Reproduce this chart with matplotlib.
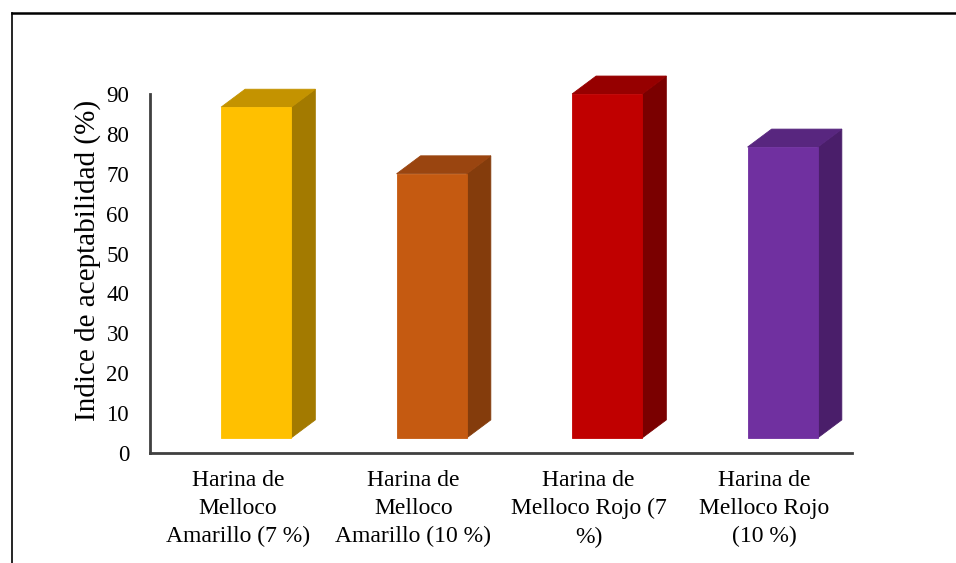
import matplotlib.pyplot as plt
from matplotlib.patches import Polygon
from matplotlib.lines import Line2D

# Acceptability index per flour formulation
categories = [
    "Harina de\nMelloco\nAmarillo (7 %)",
    "Harina de\nMelloco\nAmarillo (10 %)",
    "Harina de\nMelloco Rojo (7\n%)",
    "Harina de\nMelloco Rojo\n(10 %)",
]
values = [86.7, 70.0, 90.0, 76.7]
front_colors = ["#FFC000", "#C55A11", "#C00000", "#7030A0"]
top_colors = ["#C49300", "#9A4510", "#960000", "#58267F"]
side_colors = ["#A37A00", "#843C0C", "#7A0000", "#4A1E6A"]

plt.rcParams['font.family'] = ['Liberation Serif', 'DejaVu Serif']

W, H = 956, 563
fig = plt.figure(figsize=(W / 100, H / 100), dpi=100)
ax = fig.add_axes([150 / W, (H - 453) / H, 702 / W, 359 / H])
ax.set_xlim(0, 4)
ax.set_ylim(0, 90)

# pseudo-3D columns: front face, top face and right side
offset = 0.405   # front face left edge within each category slot
width = 0.40
dx = 0.137       # depth, horizontal (data units)
dy = 4.5         # depth, vertical (data units)
floor = 3.8
for i, v in enumerate(values):
    x0 = i + offset
    x1 = x0 + width
    front = [(x0, floor), (x1, floor), (x1, v), (x0, v)]
    top = [(x0, v), (x1, v), (x1 + dx, v + dy), (x0 + dx, v + dy)]
    side = [(x1, floor), (x1 + dx, floor + dy), (x1 + dx, v + dy), (x1, v)]
    for pts, c in [(side, side_colors[i]), (top, top_colors[i]), (front, front_colors[i])]:
        ax.add_patch(Polygon(pts, closed=True, facecolor=c, edgecolor=c,
                             linewidth=0.6, clip_on=False))

ax.set_yticks(range(0, 91, 10))
ax.set_xticks([i + 0.5 for i in range(len(categories))])
ax.set_xticklabels(categories, fontsize=17, linespacing=1.45)
ax.tick_params(axis='y', labelsize=16.5, length=0, pad=15)
ax.tick_params(axis='x', length=0, pad=12)
ax.set_ylabel("Indice de aceptabilidad (%)", fontsize=21)
ax.yaxis.set_label_coords(-0.07, 0.535)

for s in ['top', 'right']:
    ax.spines[s].set_visible(False)
for s in ['left', 'bottom']:
    ax.spines[s].set_color('#404040')
    ax.spines[s].set_linewidth(2)

# frame lines along the top and left of the figure
fig.add_artist(Line2D([12 / W, 1], [1 - 12.5 / H, 1 - 12.5 / H], color='black', linewidth=1.8))
fig.add_artist(Line2D([12 / W, 12 / W], [0, 1 - 12.5 / H], color='black', linewidth=1.2))

fig.savefig("out.png", dpi=100)
